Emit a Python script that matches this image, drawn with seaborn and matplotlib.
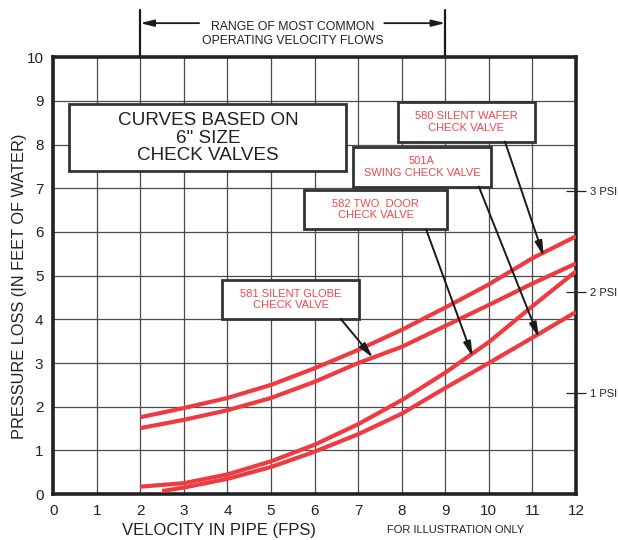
import matplotlib
matplotlib.use("Agg")
import matplotlib.pyplot as plt
import seaborn as sns
import pandas as pd
from matplotlib.patches import Rectangle

# ---- data ----
vel = [2, 3, 4, 5, 6, 7, 8, 9, 10, 11, 12]
wafer_580 = [1.76, 1.97, 2.2, 2.5, 2.88, 3.3, 3.76, 4.27, 4.8, 5.4, 5.9]
globe_581 = [1.51, 1.7, 1.92, 2.2, 2.57, 3.0, 3.37, 3.85, 4.33, 4.82, 5.28]
twodoor_582 = [0.17, 0.25, 0.45, 0.75, 1.13, 1.6, 2.15, 2.78, 3.48, 4.3, 5.1]
vel_501a = [2.5, 3, 4, 5, 6, 7, 8, 9, 10, 11, 12]
swing_501a = [0.07, 0.15, 0.35, 0.62, 0.97, 1.37, 1.84, 2.43, 3.0, 3.58, 4.17]

x_ticks = list(range(0, 13))
y_ticks = list(range(0, 11))
psi_pos = [2.31, 4.62, 6.93]
psi_labels = ["1 PSI", "2 PSI", "3 PSI"]

labels = ["580 SILENT WAFER\nCHECK VALVE", "501A\nSWING CHECK VALVE",
          "582 TWO  DOOR\nCHECK VALVE", "581 SILENT GLOBE\nCHECK VALVE"]
# box extents (x0, x1, y0, y1) and arrow (start, tip) in data units
boxes = [(7.91, 11.06, 8.07, 8.97), (6.88, 10.05, 7.04, 7.94),
         (5.76, 9.04, 6.06, 6.97), (3.88, 7.02, 4.01, 4.89)]
arrows = [((10.37, 8.07), (11.26, 5.44)), ((9.77, 7.04), (11.15, 3.58)),
          ((8.56, 6.06), (9.63, 3.14)), ((6.6, 4.01), (7.34, 3.12))]

sns.set_style("white")
plt.rcParams["font.family"] = ["Liberation Sans", "DejaVu Sans"]

RED = "#ee3a40"
TXTRED = "#f0474b"
DARK = "#222222"

fig = plt.figure(figsize=(6.18, 5.40), dpi=100)
ax = fig.add_axes([0.086, 0.085, 0.846, 0.809])

series = [(vel, wafer_580), (vel, globe_581), (vel, twodoor_582), (vel_501a, swing_501a)]
for xs, ys in series:
    df = pd.DataFrame({"v": xs, "p": ys})
    sns.lineplot(data=df, x="v", y="p", ax=ax, color=RED, lw=3.0,
                 solid_capstyle="butt", solid_joinstyle="round", zorder=4)

ax.set_xlim(0, 12)
ax.set_ylim(0, 10)
ax.set_xticks(x_ticks)
ax.set_yticks(y_ticks)
ax.set_xticklabels([str(t) for t in x_ticks], fontsize=11, color=DARK)
ax.set_yticklabels([str(t) for t in y_ticks], fontsize=11, color=DARK)
ax.tick_params(length=0, pad=7)
ax.grid(True, color="#4a4a4a", lw=0.9)
ax.set_axisbelow(True)
for s in ax.spines.values():
    s.set_visible(True)
    s.set_color("#222222")
    s.set_linewidth(2.6)

ax.set_xlabel("")
ax.set_ylabel("PRESSURE LOSS (IN FEET OF WATER)", fontsize=11.8, color=DARK)
ax.yaxis.set_label_coords(-0.05, 0.476)
fig.text(0.355, 0.003, "VELOCITY IN PIPE (FPS)", fontsize=12, color=DARK,
         ha="center", va="bottom")
fig.text(0.738, 0.010, "FOR ILLUSTRATION ONLY", fontsize=8, color=DARK,
         ha="center", va="bottom")

# PSI secondary ticks
ax2 = ax.twinx()
ax2.set_ylim(0, 10)
ax2.set_yticks(psi_pos)
ax2.set_yticklabels(psi_labels, fontsize=8, color=DARK)
ax2.tick_params(direction="inout", length=14, width=0.9, color=DARK, pad=3)
ax2.grid(False)
for s in ax2.spines.values():
    s.set_visible(False)

# main note box
ax.add_patch(Rectangle((0.37, 7.39), 6.35, 1.53, facecolor="white",
                       edgecolor="#333333", lw=2.0, zorder=5))
ax.text(3.55, 8.15, "CURVES BASED ON\n6\" SIZE\nCHECK VALVES", ha="center",
        va="center", fontsize=13.6, color=DARK, linespacing=1.05, zorder=6)

for lab, (x0, x1, y0, y1), (st, tip) in zip(labels, boxes, arrows):
    ax.add_patch(Rectangle((x0, y0), x1 - x0, y1 - y0, facecolor="white",
                           edgecolor="#333333", lw=2.0, zorder=5))
    ax.text((x0 + x1) / 2, (y0 + y1) / 2, lab, ha="center", va="center",
            fontsize=8, color=TXTRED, linespacing=1.2, zorder=6)
    ax.annotate("", xy=tip, xytext=st,
                arrowprops=dict(arrowstyle="-|>,head_length=0.9,head_width=0.22",
                                color="#1a1a1a", lw=1.4, shrinkA=0, shrinkB=0),
                zorder=6)

# range annotation at top
for xv in (2, 9):
    ax.plot([xv, xv], [10.0, 11.07], color="#1a1a1a", lw=1.6, clip_on=False)
ax.annotate("", xy=(2, 10.78), xytext=(3.35, 10.78), annotation_clip=False,
            arrowprops=dict(arrowstyle="-|>,head_length=0.8,head_width=0.2",
                            color="#1a1a1a", lw=1.3, shrinkA=0, shrinkB=0))
ax.annotate("", xy=(9, 10.78), xytext=(7.6, 10.78), annotation_clip=False,
            arrowprops=dict(arrowstyle="-|>,head_length=0.8,head_width=0.2",
                            color="#1a1a1a", lw=1.3, shrinkA=0, shrinkB=0))
ax.text(5.5, 10.53, "RANGE OF MOST COMMON\nOPERATING VELOCITY FLOWS",
        ha="center", va="center", fontsize=8.8, color=DARK, linespacing=1.25,
        clip_on=False)

fig.savefig("out.png", dpi=100)
